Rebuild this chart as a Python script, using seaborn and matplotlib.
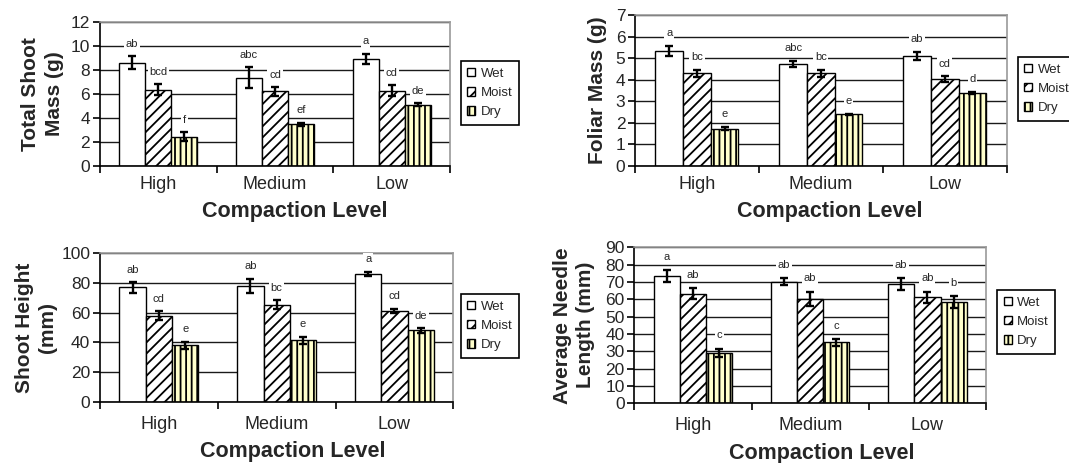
import numpy as np
import pandas as pd
import matplotlib
matplotlib.use('Agg')
import matplotlib.pyplot as plt
import seaborn as sns

levels = ['High', 'Medium', 'Low']
moistures = ['Wet', 'Moist', 'Dry']

# values per compaction level, in order Wet, Moist, Dry
shoot_mass = [8.6, 6.35, 2.4, 7.35, 6.2, 3.45, 8.9, 6.25, 5.1]
shoot_mass_err = [0.55, 0.45, 0.38, 0.85, 0.35, 0.15, 0.45, 0.45, 0.1]
shoot_mass_let = ['ab', 'bcd', 'f', 'abc', 'cd', 'ef', 'a', 'cd', 'de']

foliar_mass = [5.33, 4.29, 1.72, 4.72, 4.29, 2.38, 5.09, 4.01, 3.39]
foliar_mass_err = [0.25, 0.15, 0.07, 0.15, 0.15, 0.03, 0.2, 0.14, 0.04]
foliar_mass_let = ['a', 'bc', 'e', 'abc', 'bc', 'e', 'ab', 'cd', 'd']

shoot_height = [77, 58, 38, 78, 65.5, 41.5, 86, 61, 48]
shoot_height_err = [3.5, 3, 2.5, 5, 2.8, 2.3, 1.5, 1.5, 1.5]
shoot_height_let = ['ab', 'cd', 'e', 'ab', 'bc', 'e', 'a', 'cd', 'de']

needle_len = [73.3, 63.3, 29.2, 70.0, 60.2, 35.2, 68.7, 61.2, 58.4]
needle_len_err = [3.5, 3.3, 2.4, 2.0, 4.2, 2.0, 3.3, 3.2, 3.5]
needle_len_let = ['a', 'ab', 'c', 'ab', 'ab', 'c', 'ab', 'ab', 'b']

sns.set_style('white')
plt.rcParams['font.family'] = ['Liberation Sans', 'DejaVu Sans']
plt.rcParams['hatch.linewidth'] = 1.3

colors = {'Wet': 'white', 'Moist': 'white', 'Dry': '#FFFFCC'}
hatches = {'Wet': '', 'Moist': '///', 'Dry': '|||'}

fig = plt.figure(figsize=(10.69, 4.63), dpi=100)

panels = [
    # values, errors, letters, ylabel, ymax, step, axes rect, legend anchor,
    # ylabel pad, xtick pad, xlabel x
    (shoot_mass, shoot_mass_err, shoot_mass_let, 'Total Shoot\nMass (g)', 12, 2,
     [0.0935, 0.6421, 0.3275, 0.3109], (0.431, 0.868), 5, 7.5, 0.557),
    (foliar_mass, foliar_mass_err, foliar_mass_let, 'Foliar Mass (g)', 7, 1,
     [0.594, 0.6421, 0.3477, 0.3255], (0.952, 0.877), 6, 7.5, 0.524),
    (shoot_height, shoot_height_err, shoot_height_let, 'Shoot Height\n(mm)', 100, 20,
     [0.0935, 0.1324, 0.3306, 0.3205], (0.431, 0.365), 3, 10, 0.545),
    (needle_len, needle_len_err, needle_len_let, 'Average Needle\nLength (mm)', 90, 10,
     [0.5933, 0.1289, 0.3291, 0.3370], (0.9327, 0.3737), 7, 10, 0.534),
]

for vals, errs, lets, ylab, ymax, step, rect, leg_xy, ypad, xpad, xlab_x in panels:
    ax = fig.add_axes(rect)
    df = pd.DataFrame({
        'level': np.repeat(levels, 3),
        'moisture': moistures * 3,
        'value': vals,
        'err': errs,
        'letter': lets,
    })
    sns.barplot(data=df, x='level', y='value', hue='moisture', order=levels,
                hue_order=moistures, palette=colors, saturation=1, width=0.67,
                edgecolor='black', linewidth=1, errorbar=None, ax=ax)
    bar_conts = list(ax.containers)
    for i, cont in enumerate(bar_conts):
        m = moistures[i]
        for j, p in enumerate(cont.patches):
            p.set_hatch(hatches[m])
            row = df.iloc[j * 3 + i]
            xc = p.get_x() + p.get_width() / 2
            ax.errorbar(xc, row['value'], yerr=row['err'], fmt='none',
                        ecolor='black', elinewidth=1.7, capsize=2.8, capthick=1.7,
                        zorder=4)
            ax.text(xc, row['value'] + row['err'] + 0.085 * ymax, row['letter'],
                    ha='center', va='center', fontsize=8, zorder=5,
                    bbox=dict(facecolor='white', edgecolor='none', pad=1.2))

    ax.set_ylim(0, ymax)
    ax.set_xlim(-0.5, 2.5)
    ax.set_yticks(np.arange(0, ymax + step / 2, step))
    ax.set_axisbelow(True)
    ax.yaxis.grid(True, color='#1a1a1a', linewidth=1)
    ax.xaxis.grid(False)
    for s in ['top', 'right']:
        ax.spines[s].set_color('#9a9a9a')
        ax.spines[s].set_linewidth(1.2)
    for s in ['left', 'bottom']:
        ax.spines[s].set_color('black')
        ax.spines[s].set_linewidth(1.2)
    ax.set_xticks([-0.5, 0.5, 1.5, 2.5], minor=True)
    ax.tick_params(axis='x', which='major', length=0, pad=xpad, labelsize=13)
    ax.tick_params(axis='x', which='minor', length=5, width=1.2, color='black',
                   direction='out', bottom=True)
    ax.tick_params(axis='y', length=5, width=1.2, color='black', direction='out',
                   left=True, pad=2, labelsize=12.5)
    ax.set_xlabel('Compaction Level', fontsize=15.5, fontweight='bold',
                  labelpad=6, x=xlab_x)
    ax.set_ylabel(ylab, fontsize=15, fontweight='bold', labelpad=ypad,
                  linespacing=1.3)

    if ax.get_legend() is not None:
        ax.get_legend().remove()
    handles = [cont.patches[0] for cont in bar_conts]
    leg = ax.legend(handles, moistures, loc='upper left', bbox_to_anchor=leg_xy,
                    bbox_transform=fig.transFigure, fontsize=9.5, frameon=True,
                    fancybox=False, framealpha=1, edgecolor='black',
                    handlelength=0.6, handleheight=0.6, handletextpad=0.4,
                    labelspacing=0.55, borderpad=0.5, borderaxespad=0)
    leg.get_frame().set_linewidth(1.2)

fig.savefig('out.png', dpi=100)
